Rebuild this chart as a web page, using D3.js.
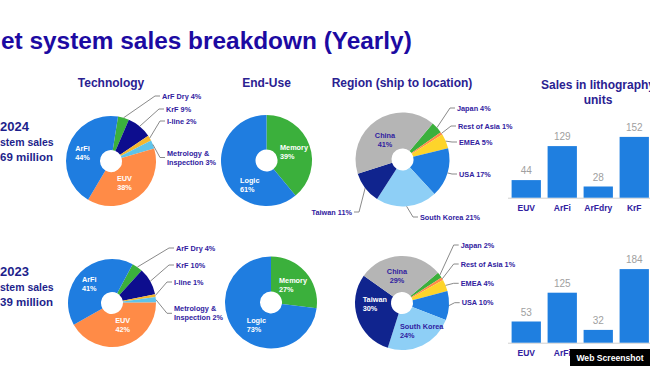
<!DOCTYPE html>
<html><head><meta charset="utf-8">
<script src="https://cdn.jsdelivr.net/npm/d3@7"></script>
<style>html,body{margin:0;padding:0;background:#fff;overflow:hidden}svg{display:block;font-family:"Liberation Sans",Arial,sans-serif}</style>
</head><body><svg id="c" width="650" height="366"></svg>
<script>
// ---------- data ----------
const titleText = "et system sales breakdown (Yearly)";
const panelTitles = ["Technology", "End-Use", "Region (ship to location)"];
const unitsTitle = ["Sales in lithography", "units"];
const years = ["2024", "2023"];
const salesLine1 = ["stem sales", "stem sales"];
const salesLine2 = ["69 million", "39 million"];

const techCats = ["ArF Dry", "KrF", "I-line", "Metrology & Inspection", "EUV", "ArFi"];
const tech2024 = [4, 9, 2, 3, 38, 44];
const tech2023 = [4, 10, 1, 2, 42, 41];

const endUseCats = ["Memory", "Logic"];
const endUse2024 = [39, 61];
const endUse2023 = [27, 73];

const regionCats = ["Japan", "Rest of Asia", "EMEA", "USA", "South Korea", "Taiwan", "China"];
const region2024 = [4, 1, 5, 17, 21, 11, 41];
const region2023 = [2, 1, 4, 10, 24, 30, 29];

const unitCats = ["EUV", "ArFi", "ArFdry", "KrF"];
const units2024 = [44, 129, 28, 152];
const units2023 = [53, 125, 32, 184];

const watermark = "Web Screenshot";

// ---------- styles ----------
const C_TITLE = "#1c0aa2", C_SUB = "#2a2191", C_LAB = "#3121a0", C_YEAR = "#1e1f8c";
const techColors = ["#3bb03c", "#0d0d8e", "#f4b72f", "#5ec3ea", "#ff8b47", "#1f7de0"];
const endUseColors = ["#3bb03c", "#1f7de0"];
const regionColors = ["#3bb03c", "#ff8b47", "#fdd42a", "#1f7de0", "#8ecff6", "#10248e", "#b5b5b5"];
const BAR = "#1f7fe0";

const svg = d3.select("#c");

// title
svg.append("text").attr("x", 1).attr("y", 49).attr("font-size", 24.4).attr("font-weight", "bold")
  .attr("fill", C_TITLE).text(titleText);

// panel titles
const subT = [[111, 87, "middle"], [266.5, 87, "middle"], [402, 87, "middle"]];
panelTitles.forEach((t, i) => svg.append("text").attr("x", subT[i][0]).attr("y", subT[i][1])
  .attr("text-anchor", subT[i][2]).attr("font-size", 12).attr("font-weight", "bold").attr("fill", C_SUB).text(t));
unitsTitle.forEach((t, i) => svg.append("text").attr("x", 598).attr("y", 89 + i * 14.5)
  .attr("text-anchor", "middle").attr("font-size", 12).attr("font-weight", "bold").attr("fill", C_SUB).text(t));

// year blocks
const rowOff = [0, 145];
years.forEach((y, i) => {
  const o = rowOff[i];
  svg.append("text").attr("x", 0).attr("y", 131 + o).attr("font-size", 13).attr("font-weight", "bold").attr("fill", C_YEAR).text(y);
  svg.append("text").attr("x", 0).attr("y", 146 + o).attr("font-size", 10.5).attr("font-weight", "bold").attr("fill", C_YEAR).text(salesLine1[i]);
  svg.append("text").attr("x", 0).attr("y", 161 + o).attr("font-size", 11.5).attr("font-weight", "bold").attr("fill", C_YEAR).text(salesLine2[i]);
});

// ---------- pies ----------
const deg = Math.PI / 180;
function drawPie(cfg) {
  const g = svg.append("g").attr("transform", `translate(${cfg.cx},${cfg.cy})`);
  const pie = d3.pie().sort(null).startAngle(cfg.start * deg).endAngle(cfg.start * deg + 2 * Math.PI);
  const arcs = pie(cfg.values);
  const arc = d3.arc().innerRadius(cfg.hole).outerRadius(cfg.r);
  const edge = d3.arc().innerRadius(cfg.r).outerRadius(cfg.r);
  g.selectAll("path.s").data(arcs).join("path").attr("class", "s")
    .attr("d", arc).attr("fill", (d, i) => cfg.colors[i]);
  arcs.forEach((d, i) => {
    const L = cfg.labels[i];
    const name = cfg.cats[i], pct = cfg.values[i] + "%";
    if (L.mode === "in") {
      [name, pct].forEach((t, k) => g.append("text").attr("x", L.dx).attr("y", L.dy + k * 9).attr("dy", "0.35em")
        .attr("text-anchor", L.anchor).attr("font-size", 7.3).attr("font-weight", "bold").attr("fill", L.color).text(t));
    } else {
      let lines;
      if (name.includes("&")) { const p = name.split("& "); lines = [p[0] + "&", p[1] + " " + pct]; }
      else lines = [name + " " + pct];
      const p0 = edge.centroid(d);
      const left = L.anchor === "end";
      const el = [L.dx + (left ? 7 : -7), L.dy], en = [L.dx + (left ? 2 : -2), L.dy];
      g.append("polyline").attr("points", [p0, el, en].map(p => p.join(",")).join(" "))
        .attr("fill", "none").attr("stroke", "#8a8a8a").attr("stroke-width", 1);
      lines.forEach((t, k) => g.append("text").attr("x", L.dx).attr("y", L.dy + (k - (lines.length - 1) / 2) * 9)
        .attr("dy", "0.35em").attr("text-anchor", L.anchor || "start").attr("font-size", 7.3).attr("font-weight", "bold")
        .attr("fill", C_LAB).text(t));
    }
  });
}

const out = (dx, dy, anchor) => ({ mode: "out", dx, dy, anchor: anchor || "start" });
const inn = (dx, dy, anchor, color) => ({ mode: "in", dx, dy, anchor, color });

drawPie({ cx: 111, cy: 161, r: 45, hole: 11, start: 9, values: tech2024, cats: techCats, colors: techColors,
  labels: [out(51, -65), out(55, -52), out(56, -40), out(56, -3.5), inn(13.5, 17, "middle", "#fff"), inn(-28.5, -13, "middle", "#fff")] });
drawPie({ cx: 112, cy: 303, r: 44, hole: 11, start: 28, values: tech2023, cats: techCats, colors: techColors,
  labels: [out(64, -55), out(64, -38), out(62, -21), out(62, 10.3), inn(10.7, 17, "middle", "#fff"), inn(-22.7, -23.7, "middle", "#fff")] });

drawPie({ cx: 266.5, cy: 160.5, r: 45.5, hole: 11, start: 0, values: endUse2024, cats: endUseCats, colors: endUseColors,
  labels: [inn(13.5, -13.5, "start", "#fff"), inn(-26.5, 19.5, "start", "#fff")] });
drawPie({ cx: 271, cy: 302.5, r: 46, hole: 11, start: 0, values: endUse2023, cats: endUseCats, colors: endUseColors,
  labels: [inn(8, -21.8, "start", "#fff"), inn(-24.3, 17.5, "start", "#fff")] });

drawPie({ cx: 402.5, cy: 159.5, r: 47, hole: 11, start: 40, values: region2024, cats: regionCats, colors: regionColors,
  labels: [out(54.5, -51.5), out(55.5, -33.5), out(56.5, -17.5), out(56.5, 14.5), out(17.5, 57.5),
    out(-50.5, 52.5, "end"), inn(-17.5, -24.5, "middle", C_LAB)] });
drawPie({ cx: 402, cy: 303, r: 47, hole: 11, start: 50, values: region2023, cats: regionCats, colors: regionColors,
  labels: [out(58.7, -58), out(58.7, -39), out(58.7, -19.7), out(59.7, -0.3), inn(-2, 23.7, "start", C_LAB),
    inn(-39.3, -4, "start", "#fff"), inn(-5, -31.3, "middle", C_LAB)] });

// ---------- bars ----------
const x = d3.scaleBand().domain(unitCats).range([508, 652.5]).paddingInner(0.186).paddingOuter(0.1);
function drawBars(values, base) {
  const y = d3.scaleLinear().domain([0, 200]).range([base, base - 80]);
  const g = svg.append("g");
  g.append("line").attr("x1", 508).attr("x2", 650).attr("y1", base + 0.5).attr("y2", base + 0.5)
    .attr("stroke", "#d0d0d0").attr("stroke-width", 1);
  g.selectAll("rect").data(values).join("rect")
    .attr("x", (d, i) => x(unitCats[i])).attr("width", x.bandwidth())
    .attr("y", d => y(d)).attr("height", d => y(0) - y(d)).attr("fill", BAR);
  g.selectAll("text.v").data(values).join("text").attr("class", "v")
    .attr("x", (d, i) => x(unitCats[i]) + x.bandwidth() / 2).attr("y", d => y(d) - 6)
    .attr("text-anchor", "middle").attr("font-size", 10).attr("fill", "#a0a0a0").text(d => d);
  g.selectAll("text.c").data(unitCats).join("text").attr("class", "c")
    .attr("x", d => x(d) + x.bandwidth() / 2).attr("y", base + 10.5).attr("dy", "0.35em")
    .attr("text-anchor", "middle").attr("font-size", 8.5).attr("font-weight", "bold").attr("fill", C_LAB).text(d => d);
}
drawBars(units2024, 197.7);
drawBars(units2023, 342.7);

// watermark (screenshot badge that covers part of the lower axis labels)
svg.append("rect").attr("x", 570).attr("y", 349).attr("width", 80).attr("height", 17).attr("fill", "#000");
svg.append("text").attr("x", 610).attr("y", 360.5).attr("text-anchor", "middle").attr("font-size", 8.6)
  .attr("font-weight", "bold").attr("fill", "#fff").text(watermark);
</script></body></html>
